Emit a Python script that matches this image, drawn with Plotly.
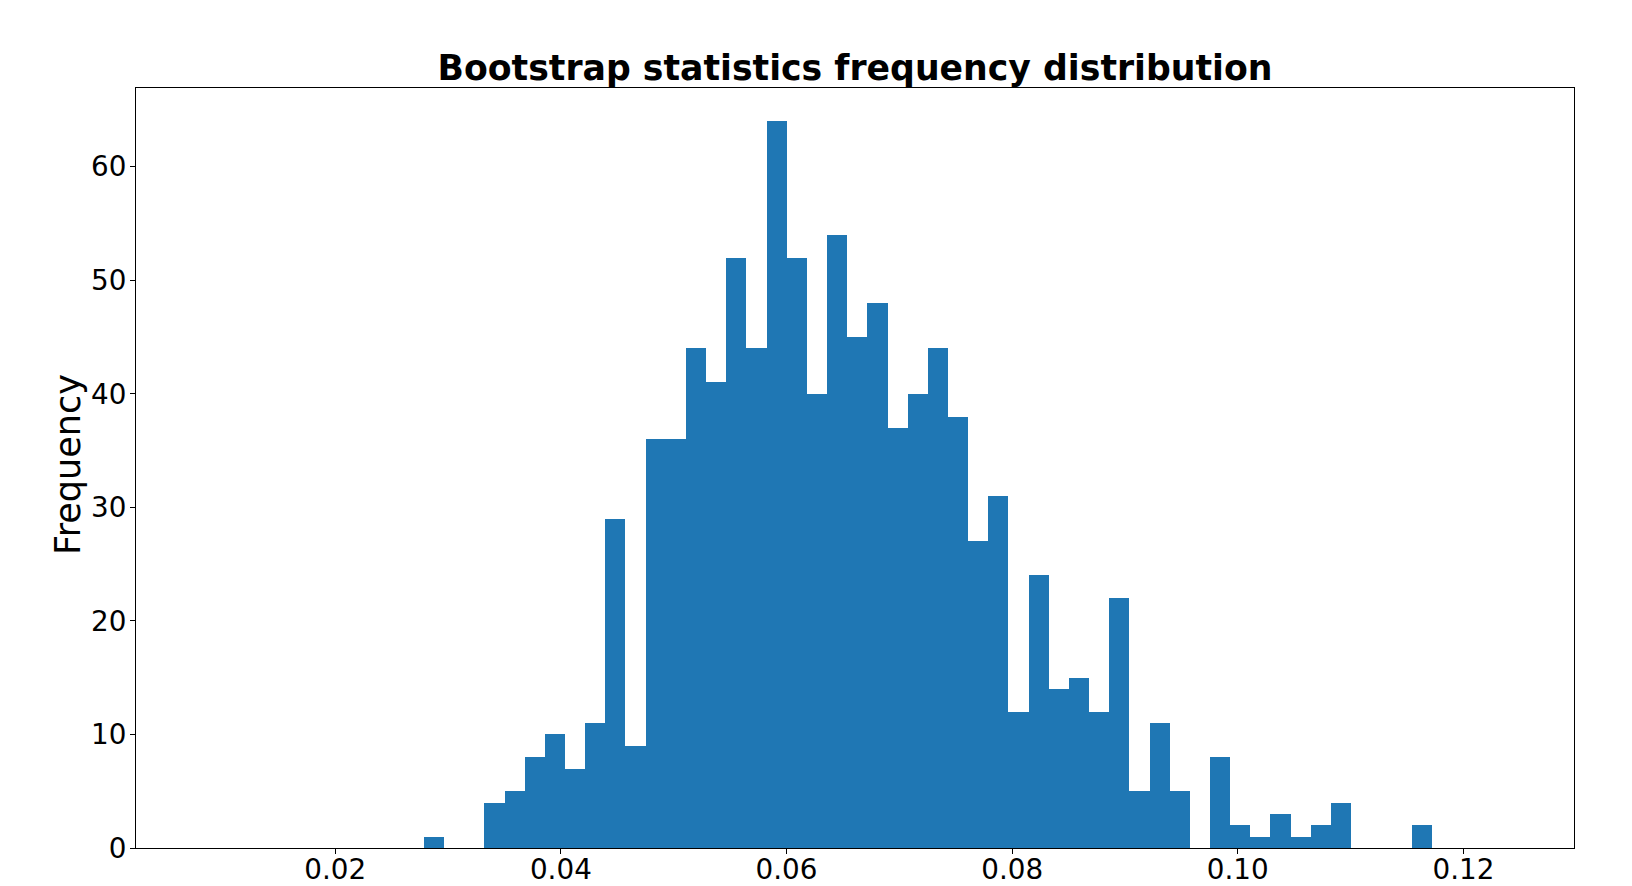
import plotly.graph_objects as go

# Histogram of 1000 bootstrap statistics: 50 equal-width bins
bin_start = 0.02786
bin_width = 0.0017866
counts = [1, 0, 0, 4, 5, 8, 10, 7, 11, 29,
          9, 36, 36, 44, 41, 52, 44, 64, 52, 40,
          54, 45, 48, 37, 40, 44, 38, 27, 31, 12,
          24, 14, 15, 12, 22, 5, 11, 5, 0, 8,
          2, 1, 3, 1, 2, 4, 0, 0, 0, 2]
x_ticks = [0.02, 0.04, 0.06, 0.08, 0.10, 0.12]
x_tick_text = ["0.02", "0.04", "0.06", "0.08", "0.10", "0.12"]
y_ticks = [0, 10, 20, 30, 40, 50, 60]

centers = [bin_start + (i + 0.5) * bin_width for i in range(len(counts))]

fig = go.Figure(go.Bar(
    x=centers, y=counts, width=[bin_width] * len(counts),
    marker=dict(color="#1f77b4", line=dict(width=0)),
    hoverinfo="x+y",
))

font = "DejaVu Sans"
fig.update_layout(
    width=1632, height=886,
    paper_bgcolor="white", plot_bgcolor="white",
    margin=dict(l=136, r=58, t=88, b=38, autoexpand=False),
    showlegend=False, bargap=0,
    font=dict(family=font, color="black"),
    title=dict(text="<b>Bootstrap statistics frequency distribution</b>",
               font=dict(family=font, size=34.7, color="black"),
               x=855 / 1632, xanchor="center", xref="container",
               y=1 - 68 / 886, yanchor="middle", yref="container"),
    annotations=[dict(text="Frequency", textangle=-90, showarrow=False,
                      xref="paper", yref="paper", x=(68 - 136) / 1438, y=0.504,
                      xanchor="center", yanchor="middle",
                      font=dict(family=font, size=35, color="black"))],
)
fig.update_xaxes(
    range=[0.00234, 0.1298], tickvals=x_ticks, ticktext=x_tick_text,
    ticks="outside", ticklen=5, tickwidth=1.2, tickcolor="black",
    ticklabelstandoff=-8,
    showline=True, linecolor="black", linewidth=1.2, mirror=True,
    showgrid=False, zeroline=False, automargin=False,
    tickfont=dict(family=font, size=27.8, color="black"),
)
fig.update_yaxes(
    range=[0, 66.93], tickvals=y_ticks,
    ticks="outside", ticklen=5, tickwidth=1.2, tickcolor="black",
    ticklabelstandoff=-2,
    showline=True, linecolor="black", linewidth=1.2, mirror=True,
    showgrid=False, zeroline=False, automargin=False,
    tickfont=dict(family=font, size=27.8, color="black"),
)
fig.write_html(
    "out.html",
    config={"displayModeBar": False},
    post_script="document.body.style.margin='0';document.body.style.overflow='hidden';",
)
